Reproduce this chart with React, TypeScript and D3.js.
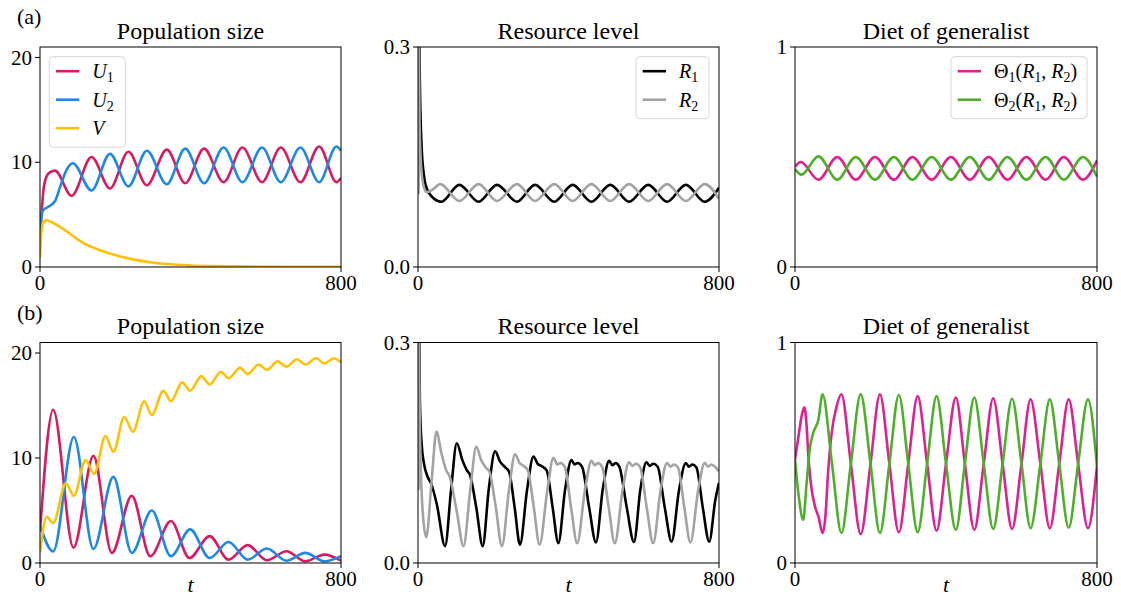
import React from "react";
import * as d3 from "d3";

type Pt = [number, number];

// Shared axes settings
const T_MAX = 800;
const T_TICKS = [0, 800];
const POP_MAX = 21;
const POP_TICKS = [0, 10, 20];
const RES_MAX = 0.3;
const RES_TICKS = [0, 0.3];
const DIET_MAX = 1;
const DIET_TICKS = [0, 1];

const TITLES = ["Population size", "Resource level", "Diet of generalist"];
const ROW_TAGS = ["(a)", "(b)"];

// ---- Row (a): coexistence ----
const u1A: Pt[] = [
  [0, 3.0], [4, 5.0], [9, 7.3], [18, 8.7], [27, 9.05], [40, 9.2], [84, 6.8], [137, 10.5], [186, 7.5],
  [235, 11.0], [284, 7.8], [337, 11.2], [386, 8.0], [436, 11.3], [488, 8.1], [538, 11.4], [590, 8.1],
  [640, 11.4], [692, 8.1], [742, 11.5], [788, 8.1], [800, 8.5],
];
const u2A: Pt[] = [
  [0, 3.0], [3, 4.6], [8, 5.4], [20, 5.7], [40, 6.3], [53, 7.6], [71, 9.3], [87, 9.9], [137, 7.3],
  [186, 10.8], [235, 7.7], [284, 11.1], [337, 7.9], [386, 11.3], [436, 8.0], [488, 11.4], [538, 8.1],
  [590, 11.4], [640, 8.1], [692, 11.4], [742, 8.1], [788, 11.5], [800, 11.1],
];
const vA: Pt[] = [
  [0, 0.9], [3, 3.0], [8, 4.2], [16, 4.45], [30, 4.3], [50, 3.9], [71, 3.4], [90, 2.9], [115, 2.3],
  [160, 1.6], [204, 1.1], [248, 0.73], [293, 0.45], [337, 0.28], [400, 0.15], [470, 0.08], [560, 0.04],
  [680, 0.02], [800, 0.01],
];
const r1A: Pt[] = [
  [0, 0.1], [2, 0.4], [5, 0.25], [10, 0.16], [15, 0.128], [20, 0.112], [35, 0.097], [62, 0.089],
  [110, 0.112], [161, 0.089], [210, 0.112], [263, 0.089], [311, 0.112], [362, 0.089], [411, 0.112],
  [461, 0.089], [511, 0.112], [561, 0.089], [612, 0.112], [662, 0.089], [712, 0.112], [762, 0.089],
  [800, 0.108],
];
const r2A: Pt[] = [
  [0, 0.1], [1.5, 0.4], [4, 0.2], [8, 0.14], [15, 0.11], [24, 0.102], [40, 0.106], [59, 0.113],
  [110, 0.09], [161, 0.113], [210, 0.09], [263, 0.113], [311, 0.09], [362, 0.113], [411, 0.09],
  [461, 0.113], [511, 0.09], [561, 0.113], [612, 0.09], [662, 0.113], [712, 0.09], [762, 0.113],
  [800, 0.093],
];
const th1A: Pt[] = [
  [0, 0.455], [15, 0.477], [62, 0.397], [112, 0.5], [161, 0.397], [212, 0.5], [262, 0.397], [311, 0.5],
  [362, 0.397], [413, 0.5], [463, 0.397], [513, 0.5], [563, 0.397], [613, 0.5], [664, 0.397],
  [712, 0.5], [763, 0.397], [800, 0.485],
];
const th2A: Pt[] = [
  [0, 0.445], [17, 0.42], [62, 0.503], [112, 0.397], [161, 0.5], [212, 0.397], [262, 0.5], [311, 0.397],
  [362, 0.5], [413, 0.397], [463, 0.5], [513, 0.397], [563, 0.5], [613, 0.397], [664, 0.5],
  [712, 0.397], [763, 0.5], [800, 0.41],
];

// ---- Row (b): generalist takes over ----
const u1B: Pt[] = [
  [0, 3.0], [35, 14.6], [89, 1.45], [142, 10.2], [191, 0.96], [244, 6.4], [293, 0.64], [348, 4.0],
  [397, 0.48], [451, 2.56], [501, 0.32], [552, 1.7], [603, 0.26], [655, 1.12], [705, 0.16],
  [756, 0.8], [800, 0.22],
];
const u2B: Pt[] = [
  [0, 3.6], [35, 1.1], [90, 12.0], [142, 1.34], [195, 8.2], [244, 0.96], [297, 5.0], [348, 0.64],
  [399, 3.2], [451, 0.48], [501, 2.0], [552, 0.32], [603, 1.38], [655, 0.22], [705, 0.96],
  [756, 0.16], [800, 0.65],
];
const vB: Pt[] = [
  [0, 1.0], [18, 4.4], [35, 3.8], [69, 7.6], [90, 6.4], [121, 9.8], [144, 8.5], [174, 12.1],
  [195, 10.6], [224, 13.9], [247, 12.5], [277, 15.4], [297, 14.1], [328, 16.4], [348, 15.4],
  [378, 17.2], [399, 16.4], [429, 17.8], [451, 17.0], [481, 18.2], [501, 17.6], [532, 18.6],
  [552, 18.0], [581, 18.9], [603, 18.4], [632, 19.2], [655, 18.7], [683, 19.4], [705, 18.9],
  [734, 19.5], [756, 19.0], [781, 19.5], [800, 19.1],
];
const r1B: Pt[] = [
  [0, 0.1], [1.5, 0.42], [5, 0.22], [10, 0.16], [16, 0.135], [25, 0.118], [35, 0.108], [50, 0.08],
  [72, 0.023], [88, 0.1], [103, 0.163], [118, 0.14], [130, 0.126], [138, 0.12], [155, 0.075],
  [172, 0.023], [188, 0.1], [205, 0.152], [218, 0.138], [232, 0.13], [242, 0.124], [257, 0.075],
  [271, 0.025], [290, 0.1], [307, 0.145], [318, 0.135], [328, 0.132], [342, 0.126], [358, 0.075],
  [373, 0.027], [391, 0.1], [408, 0.14], [416, 0.134], [424, 0.136], [436, 0.131], [455, 0.075],
  [473, 0.028], [491, 0.1], [508, 0.139], [517, 0.133], [525, 0.136], [535, 0.131], [555, 0.075],
  [574, 0.0285], [591, 0.1], [607, 0.137], [616, 0.132], [625, 0.135], [637, 0.131], [656, 0.075],
  [674, 0.029], [694, 0.1], [712, 0.136], [720, 0.131], [729, 0.134], [740, 0.13], [757, 0.075],
  [774, 0.029], [790, 0.085], [800, 0.109],
];
const r2B: Pt[] = [
  [0, 0.1], [1, 0.42], [4, 0.22], [8, 0.12], [14, 0.06], [22, 0.035], [36, 0.11], [49, 0.179],
  [62, 0.15], [75, 0.126], [84, 0.118], [103, 0.07], [121, 0.023], [139, 0.1], [155, 0.158],
  [168, 0.14], [180, 0.13], [190, 0.124], [207, 0.075], [223, 0.023], [242, 0.1], [258, 0.148],
  [270, 0.136], [281, 0.132], [292, 0.126], [308, 0.075], [323, 0.025], [344, 0.1], [360, 0.143],
  [370, 0.134], [378, 0.136], [390, 0.131], [407, 0.075], [423, 0.027], [444, 0.1], [461, 0.139],
  [470, 0.133], [478, 0.136], [489, 0.131], [507, 0.075], [523, 0.027], [544, 0.1], [561, 0.137],
  [570, 0.132], [579, 0.135], [590, 0.131], [608, 0.075], [625, 0.027], [645, 0.1], [662, 0.136],
  [671, 0.131], [680, 0.134], [691, 0.13], [708, 0.075], [724, 0.028], [745, 0.1], [762, 0.136],
  [771, 0.131], [780, 0.134], [791, 0.13], [800, 0.125],
];
const th1B: Pt[] = [
  [0, 0.47], [8, 0.56], [18, 0.67], [25, 0.706], [30, 0.64], [36, 0.47], [42, 0.36], [53, 0.256],
  [62, 0.211], [73, 0.136], [80, 0.2], [88, 0.42], [97, 0.588], [110, 0.709], [123, 0.765],
  [148, 0.45], [174, 0.131], [200, 0.45], [225, 0.765], [250, 0.45], [275, 0.139], [300, 0.45],
  [325, 0.757], [350, 0.45], [375, 0.146], [400, 0.45], [426, 0.75], [450, 0.45], [475, 0.151],
  [500, 0.45], [525, 0.747], [550, 0.45], [575, 0.154], [600, 0.45], [624, 0.742], [650, 0.45],
  [675, 0.157], [700, 0.45], [725, 0.742], [750, 0.45], [776, 0.158], [800, 0.44],
];
const th2B: Pt[] = [
  [0, 0.47], [10, 0.3], [22, 0.196], [30, 0.347], [40, 0.528], [48, 0.588], [62, 0.65], [73, 0.765],
  [98, 0.45], [123, 0.136], [148, 0.45], [174, 0.766], [200, 0.45], [225, 0.136], [250, 0.45],
  [275, 0.762], [300, 0.45], [325, 0.14], [350, 0.45], [375, 0.757], [400, 0.45], [426, 0.15],
  [450, 0.45], [475, 0.75], [500, 0.45], [525, 0.154], [550, 0.45], [575, 0.745], [600, 0.45],
  [624, 0.158], [650, 0.45], [675, 0.742], [700, 0.45], [725, 0.16], [750, 0.45], [776, 0.742],
  [800, 0.437],
];

// Colours
const C_U1 = "#d81b60";
const C_U2 = "#1e88e5";
const C_V = "#ffc107";
const C_R1 = "#000000";
const C_R2 = "#a3a3a3";
const C_TH1 = "#dd2290";
const C_TH2 = "#4daf2a";

const FONT = "'Liberation Serif', 'Times New Roman', 'DejaVu Serif', serif";
const COLS: [number, number][] = [[40, 341], [418, 719], [795, 1097]];
const ROWS: [number, number][] = [[47, 267], [342.5, 563]];
const LW = 2.6;

const SUB = 14;
const sub = (s: string) => [
  <tspan key={"s" + s + "a"} fontSize={SUB} dy={4}>{s}</tspan>,
];

const labelU = (n: string) => (
  <>
    <tspan fontStyle="italic">U</tspan>
    <tspan fontSize={SUB} dy={4}>{n}</tspan>
  </>
);
const labelV = () => <tspan fontStyle="italic">V</tspan>;
const labelR = (n: string) => (
  <>
    <tspan fontStyle="italic">R</tspan>
    <tspan fontSize={SUB} dy={4}>{n}</tspan>
  </>
);
const labelTheta = (n: string) => (
  <>
    <tspan>Θ</tspan>
    <tspan fontSize={SUB} dy={4}>{n}</tspan>
    <tspan dy={-4}>(</tspan>
    <tspan fontStyle="italic">R</tspan>
    <tspan fontSize={SUB} dy={4}>1</tspan>
    <tspan dy={-4}>, </tspan>
    <tspan fontStyle="italic">R</tspan>
    <tspan fontSize={SUB} dy={4}>2</tspan>
    <tspan dy={-4}>)</tspan>
  </>
);

type Series = { data: Pt[]; color: string; label?: React.ReactNode };
type LegendSpec = { side: "left" | "right"; width: number };
type PanelSpec = {
  col: number;
  row: number;
  yMax: number;
  yTicks: number[];
  fmt: (v: number) => string;
  series: Series[];
  legend?: LegendSpec;
};

const fmtInt = d3.format("d");
const fmt1 = d3.format(".1f");

const PANELS: PanelSpec[] = [
  {
    col: 0, row: 0, yMax: POP_MAX, yTicks: POP_TICKS, fmt: fmtInt,
    series: [
      { data: u1A, color: C_U1, label: labelU("1") },
      { data: u2A, color: C_U2, label: labelU("2") },
      { data: vA, color: C_V, label: labelV() },
    ],
    legend: { side: "left", width: 76 },
  },
  {
    col: 1, row: 0, yMax: RES_MAX, yTicks: RES_TICKS, fmt: fmt1,
    series: [
      { data: r1A, color: C_R1, label: labelR("1") },
      { data: r2A, color: C_R2, label: labelR("2") },
    ],
    legend: { side: "right", width: 73 },
  },
  {
    col: 2, row: 0, yMax: DIET_MAX, yTicks: DIET_TICKS, fmt: fmtInt,
    series: [
      { data: th1A, color: C_TH1, label: labelTheta("1") },
      { data: th2A, color: C_TH2, label: labelTheta("2") },
    ],
    legend: { side: "right", width: 136 },
  },
  {
    col: 0, row: 1, yMax: POP_MAX, yTicks: POP_TICKS, fmt: fmtInt,
    series: [
      { data: u1B, color: C_U1 },
      { data: u2B, color: C_U2 },
      { data: vB, color: C_V },
    ],
  },
  {
    col: 1, row: 1, yMax: RES_MAX, yTicks: RES_TICKS, fmt: fmt1,
    series: [
      { data: r1B, color: C_R1 },
      { data: r2B, color: C_R2 },
    ],
  },
  {
    col: 2, row: 1, yMax: DIET_MAX, yTicks: DIET_TICKS, fmt: fmtInt,
    series: [
      { data: th1B, color: C_TH1 },
      { data: th2B, color: C_TH2 },
    ],
  },
];

function Panel({ spec, idx }: { spec: PanelSpec; idx: number }) {
  const [left, right] = COLS[spec.col];
  const [top, bottom] = ROWS[spec.row];
  const x = d3.scaleLinear().domain([0, T_MAX]).range([left, right]);
  const y = d3.scaleLinear().domain([0, spec.yMax]).range([bottom, top]);
  const line = d3
    .line<Pt>()
    .x((d) => x(d[0]))
    .y((d) => y(d[1]))
    .curve(d3.curveMonotoneX);
  const clipId = `clip-${idx}`;

  let legend: React.ReactNode = null;
  if (spec.legend) {
    const n = spec.series.length;
    const h = 28.5 * n + 5;
    const bx = spec.legend.side === "left" ? left + 9.3 : right - 10 - spec.legend.width;
    const by = top + 9.7;
    legend = (
      <g>
        <rect x={bx} y={by} width={spec.legend.width} height={h} rx={4} ry={4}
          fill="#ffffff" fillOpacity={0.8} stroke="#d6d6d6" strokeWidth={1} />
        {spec.series.map((s, i) => {
          const ly = by + 14.5 + i * 28.5;
          return (
            <g key={i}>
              <line x1={bx + 6.7} x2={bx + 30} y1={ly} y2={ly} stroke={s.color} strokeWidth={LW} />
              <text x={bx + 43} y={ly + 7} fontSize={20} fontFamily={FONT} fill="#000">
                {s.label}
              </text>
            </g>
          );
        })}
      </g>
    );
  }

  return (
    <g>
      <defs>
        <clipPath id={clipId}>
          <rect x={left} y={top} width={right - left} height={bottom - top} />
        </clipPath>
      </defs>
      <text x={(left + right) / 2} y={top - 8.5} textAnchor="middle" fontSize={24} fontFamily={FONT}>
        {TITLES[spec.col]}
      </text>
      <g clipPath={`url(#${clipId})`}>
        {spec.series.map((s, i) => (
          <path key={i} d={line(s.data) ?? ""} fill="none" stroke={s.color} strokeWidth={LW}
            strokeLinejoin="round" strokeLinecap="butt" />
        ))}
      </g>
      <rect x={left} y={top} width={right - left} height={bottom - top} fill="none" stroke="#000" strokeWidth={1} />
      {spec.yTicks.map((t) => (
        <g key={"y" + t}>
          <line x1={left - 5} x2={left} y1={y(t)} y2={y(t)} stroke="#000" strokeWidth={1} />
          <text x={left - 8} y={y(t)} dy="0.34em" textAnchor="end" fontSize={21} fontFamily={FONT}>
            {spec.fmt(t)}
          </text>
        </g>
      ))}
      {T_TICKS.map((t) => (
        <g key={"x" + t}>
          <line x1={x(t)} x2={x(t)} y1={bottom} y2={bottom + 5} stroke="#000" strokeWidth={1} />
          <text x={x(t)} y={bottom + 23} textAnchor="middle" fontSize={21} fontFamily={FONT}>
            {fmtInt(t)}
          </text>
        </g>
      ))}
      {spec.row === 1 && (
        <text x={(left + right) / 2} y={bottom + 29} textAnchor="middle" fontSize={22}
          fontStyle="italic" fontFamily={FONT}>
          t
        </text>
      )}
      {legend}
    </g>
  );
}

export default function App() {
  return (
    <svg width={1121} height={612} viewBox="0 0 1121 612"
      style={{ position: "absolute", left: 0, top: 0, background: "#fff", display: "block" }}>
      <rect x={0} y={0} width={1121} height={612} fill="#fff" />
      {ROW_TAGS.map((tag, i) => (
        <text key={tag} x={17} y={ROWS[i][0] - 23} fontSize={22} fontFamily={FONT}>
          {tag}
        </text>
      ))}
      {PANELS.map((p, i) => (
        <Panel key={i} spec={p} idx={i} />
      ))}
    </svg>
  );
}
